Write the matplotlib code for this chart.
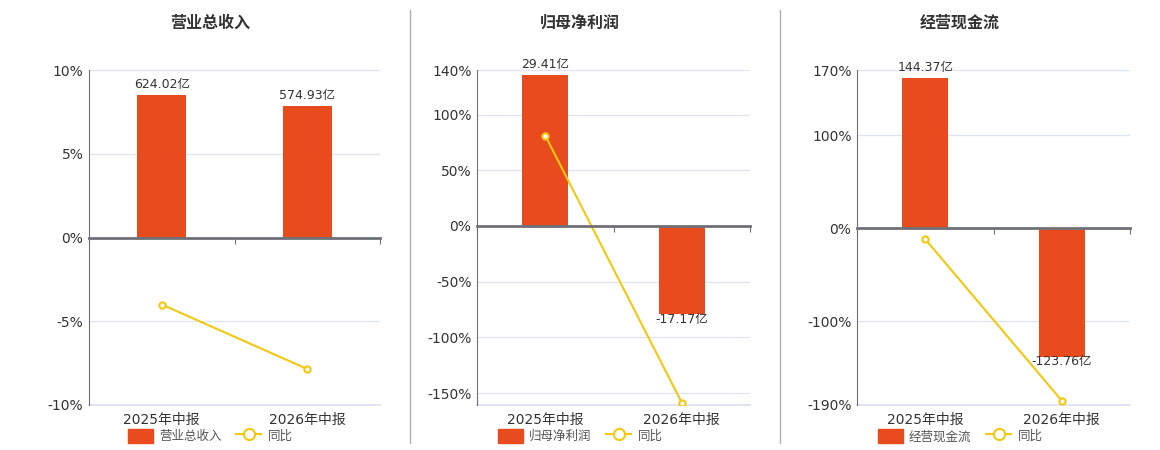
import matplotlib.pyplot as plt
from matplotlib.patches import Patch
from matplotlib.lines import Line2D

plt.rcParams['font.family'] = ['DejaVu Sans', 'Noto Sans CJK SC']
plt.rcParams['axes.unicode_minus'] = False

# 数据
categories = ['2025年中报', '2026年中报']

revenue = [624.02, 574.93]        # 营业总收入 (亿)
revenue_yoy = [-4.0, -7.85]       # 同比 %

profit = [29.41, -17.17]          # 归母净利润 (亿)
profit_yoy = [81.1, -158.5]

cash = [144.37, -123.76]          # 经营现金流 (亿)
cash_yoy = [-11.8, -185.3]

BAR_COLOR = '#E84C1E'
LINE_COLOR = '#F2C811'
AXIS_COLOR = '#6e7079'
GRID_COLOR = '#e0e6f1'
TEXT_COLOR = '#333333'

W, H = 1160, 450
fig = plt.figure(figsize=(W / 100, H / 100), dpi=100)

panels = [
    # 标题, 柱值, 同比, 左右像素, 百分比范围, 刻度, 柱轴与百分比轴比例, 标题/图例中心
    dict(title='营业总收入', bars=revenue, yoy=revenue_yoy, left=89, right=380,
         ylim=(-10, 10), ticks=[-10, -5, 0, 5, 10], bar_per_pct=73.3, center=210),
    dict(title='归母净利润', bars=profit, yoy=profit_yoy, left=477, right=750,
         ylim=(-160.7, 140), ticks=[-150, -100, -50, 0, 50, 100, 140], bar_per_pct=0.217, center=580),
    dict(title='经营现金流', bars=cash, yoy=cash_yoy, left=857, right=1130,
         ylim=(-190, 170), ticks=[-190, -100, 0, 100, 170], bar_per_pct=0.8965, center=960),
]

top_px, bottom_px = 70, 405
x = list(range(len(categories)))

for p in panels:
    rect = [p['left'] / W, (H - bottom_px) / H,
            (p['right'] - p['left']) / W, (bottom_px - top_px) / H]

    # 底层: 百分比轴, 网格, 类目标签
    ax = fig.add_axes(rect)
    ax.set_zorder(1)
    ax.set_xlim(-0.5, 1.5)
    ax.set_ylim(*p['ylim'])
    ax.set_yticks(p['ticks'])
    ax.set_yticklabels([f'{t}%' for t in p['ticks']])
    ax.set_xticks(x)
    ax.set_xticklabels(categories)
    ax.tick_params(axis='y', length=0, pad=4, labelsize=10, labelcolor=TEXT_COLOR)
    ax.tick_params(axis='x', length=0, pad=6, labelsize=10, labelcolor=TEXT_COLOR)
    ax.grid(axis='y', color=GRID_COLOR, lw=1)
    ax.set_axisbelow(True)
    for s in ['top', 'right', 'bottom']:
        ax.spines[s].set_visible(False)
    ax.spines['left'].set_color(AXIS_COLOR)
    ax.axhline(p['ylim'][0], color=GRID_COLOR, lw=1.5, clip_on=False, zorder=0)

    # 中层: 柱子
    axb = fig.add_axes(rect)
    axb.set_zorder(2)
    axb.patch.set_visible(False)
    axb.set_xlim(-0.5, 1.5)
    axb.set_ylim(p['ylim'][0] * p['bar_per_pct'], p['ylim'][1] * p['bar_per_pct'])
    axb.axis('off')
    axb.bar(x, p['bars'], width=0.34, color=BAR_COLOR)
    for xi, v in zip(x, p['bars']):
        if v >= 0:
            axb.annotate(f'{v:.2f}亿', (xi, v), xytext=(0, 3), textcoords='offset points',
                         ha='center', va='bottom', fontsize=9, color=TEXT_COLOR)
        else:
            axb.annotate(f'{v:.2f}亿', (xi, v), xytext=(0, 1), textcoords='offset points',
                         ha='center', va='top', fontsize=9, color=TEXT_COLOR)

    # 顶层: 零轴线和同比折线
    axt = fig.add_axes(rect)
    axt.set_zorder(3)
    axt.patch.set_visible(False)
    axt.set_xlim(-0.5, 1.5)
    axt.set_ylim(*p['ylim'])
    for s in ['top', 'right', 'left']:
        axt.spines[s].set_visible(False)
    axt.spines['bottom'].set_position(('data', 0))
    axt.spines['bottom'].set_color(AXIS_COLOR)
    axt.spines['bottom'].set_linewidth(2)
    axt.set_xticks([-0.5, 0.5, 1.5])
    axt.tick_params(axis='x', length=4, color=AXIS_COLOR, labelbottom=False)
    axt.set_yticks([])
    axt.plot(x, p['yoy'], color=LINE_COLOR, lw=1.5, marker='o', markersize=4.5,
             markerfacecolor='white', markeredgecolor=LINE_COLOR, markeredgewidth=1.5)

    # 标题
    fig.text(p['center'] / W, 1 - 23 / H, p['title'], ha='center', va='center',
             fontsize=11.5, fontweight='bold', color=TEXT_COLOR)

    # 图例
    handles = [
        Patch(facecolor=BAR_COLOR, edgecolor=BAR_COLOR, label=p['title']),
        Line2D([], [], color=LINE_COLOR, lw=1.5, marker='o', markersize=8,
               markerfacecolor='white', markeredgewidth=1.5, label='同比'),
    ]
    fig.legend(handles=handles, loc='center', bbox_to_anchor=(p['center'] / W, 14 / H),
               ncol=2, frameon=False, fontsize=9, handlelength=2.0, handleheight=1.4,
               handletextpad=0.5, columnspacing=1.2, labelcolor='#555555')

# 分隔线
for sx in [410, 780]:
    fig.add_artist(Line2D([sx / W, sx / W], [1 - 10 / H, 1 - 443 / H], color='#b0b0b0', lw=1))

fig.savefig('out.png', dpi=100)
